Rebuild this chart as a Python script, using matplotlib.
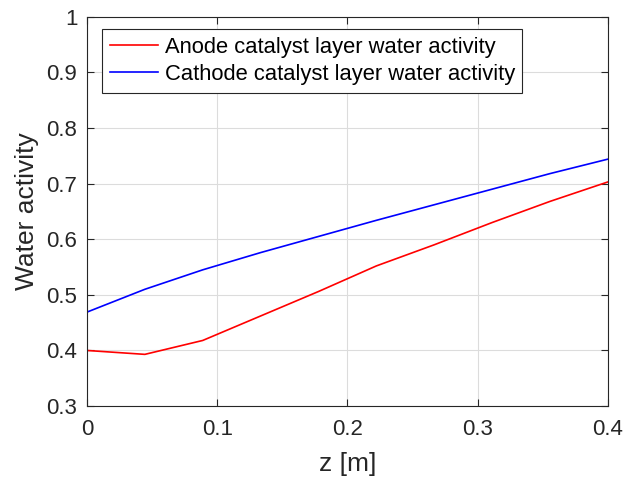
import matplotlib.pyplot as plt
import numpy as np

plt.rcParams['font.family'] = ['Liberation Sans', 'DejaVu Sans']

# z positions along channel
z = np.linspace(0, 0.4, 10)
anode = [0.400, 0.393, 0.418, 0.462, 0.506, 0.552, 0.590, 0.630, 0.668, 0.703]
cathode = [0.469, 0.510, 0.545, 0.576, 0.605, 0.634, 0.662, 0.690, 0.718, 0.744]

fig = plt.figure(figsize=(6.24, 4.8), dpi=100)
ax = fig.add_axes([0.1394, 0.154, 0.8346, 0.811])

ax.plot(z, anode, color='#ff0000', lw=1.2, label='Anode catalyst layer water activity')
ax.plot(z, cathode, color='#0000ff', lw=1.2, label='Cathode catalyst layer water activity')

ax.set_xlim(0, 0.4)
ax.set_ylim(0.3, 1)
ax.set_xticks([0, 0.1, 0.2, 0.3, 0.4])
ax.set_xticklabels(['0', '0.1', '0.2', '0.3', '0.4'])
ax.set_yticks(np.arange(0.3, 1.01, 0.1))
ax.set_yticklabels(['0.3', '0.4', '0.5', '0.6', '0.7', '0.8', '0.9', '1'])

ax.grid(True, color='#dcdcdc', lw=0.8)
ax.set_axisbelow(True)
ax.tick_params(direction='in', top=True, right=True, labelsize=16, colors='#262626', length=5)
ax.tick_params(axis='x', pad=9)
ax.tick_params(axis='y', pad=7)
for s in ax.spines.values():
    s.set_color('#262626')
    s.set_linewidth(0.8)

ax.set_xlabel('z [m]', fontsize=19, color='#262626', labelpad=9)
ax.set_ylabel('Water activity', fontsize=19, color='#262626', labelpad=5.5)

leg = ax.legend(loc='upper left', bbox_to_anchor=(0.0288, 0.969), fontsize=15.8,
                fancybox=False, framealpha=1, edgecolor='#262626',
                borderpad=0.35, handlelength=2.2, handletextpad=0.3,
                labelspacing=0.3, borderaxespad=0)
leg.get_frame().set_linewidth(0.8)

fig.savefig('out.png')
